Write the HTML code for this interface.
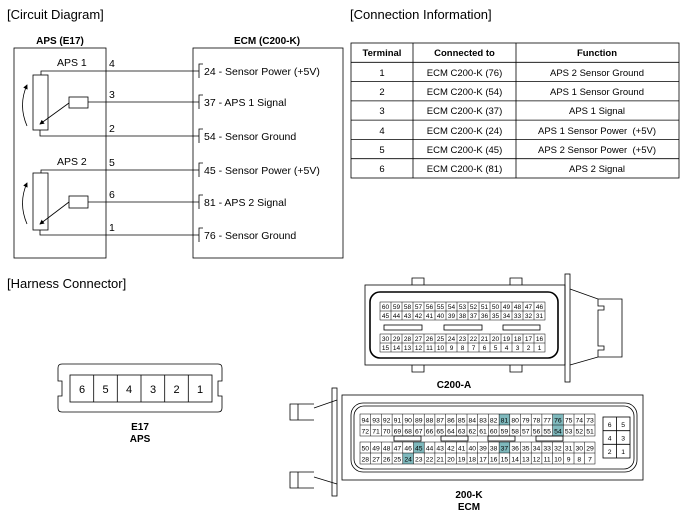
<!DOCTYPE html>
<html><head><meta charset="utf-8"><style>
html,body{margin:0;padding:0;background:#fff;}
svg{display:block;font-family:"Liberation Sans",sans-serif;}
</style></head><body>
<svg width="689" height="518" viewBox="0 0 689 518" xmlns="http://www.w3.org/2000/svg">
<defs><marker id="ah" markerWidth="6" markerHeight="6" refX="5" refY="3" orient="auto"><path d="M0,0 L6,3 L0,6 z" fill="#000"/></marker></defs>
<g font-size="13" fill="#000">
<text x="7" y="19">[Circuit Diagram]</text>
<text x="350" y="19">[Connection Information]</text>
<text x="7" y="288">[Harness Connector]</text>
</g>
<g font-size="10" font-weight="bold" text-anchor="middle">
<text x="60" y="44">APS (E17)</text>
<text x="267" y="44">ECM (C200-K)</text>
</g>
<g fill="none" stroke="#000" stroke-width="0.8">
<rect x="14" y="48" width="92" height="210"/>
<rect x="193" y="48" width="150" height="210"/>
<path d="M41,75 V71 H199"/>
<path d="M88,102 H199"/>
<path d="M40,130 V136 H199"/>
<path d="M41,173 V170 H199"/>
<path d="M88,202 H199"/>
<path d="M40,230 V235 H199"/>
<rect x="33" y="75" width="15" height="55" fill="#fff"/>
<rect x="69" y="97" width="19" height="11" fill="#fff"/>
<rect x="33" y="173" width="15" height="57" fill="#fff"/>
<rect x="69" y="196" width="19" height="12" fill="#fff"/>
<path d="M69,103 L40,124" marker-end="url(#ah)"/>
<path d="M69,202 L40,224" marker-end="url(#ah)"/>
<path d="M27,126 Q18,105 27,85" marker-end="url(#ah)"/>
<path d="M27,224 Q18,203 27,183" marker-end="url(#ah)"/>
<path d="M203,64 H199 V78 M203,95 H199 V109 M203,129 H199 V143 M203,163 H199 V177 M203,195 H199 V209 M203,228 H199 V242"/>
</g>
<g font-size="10.5">
<text x="57" y="66">APS 1</text>
<text x="57" y="165">APS 2</text>
<text x="109" y="67">4</text><text x="109" y="98">3</text><text x="109" y="132">2</text>
<text x="109" y="166">5</text><text x="109" y="198">6</text><text x="109" y="231">1</text>
<text x="204" y="75">24 - Sensor Power (+5V)</text>
<text x="204" y="106">37 - APS 1 Signal</text>
<text x="204" y="140">54 - Sensor Ground</text>
<text x="204" y="174">45 - Sensor Power (+5V)</text>
<text x="204" y="206">81 - APS 2 Signal</text>
<text x="204" y="239">76 - Sensor Ground</text>
</g>
<g fill="none" stroke="#000" stroke-width="0.8">
<rect x="351" y="43" width="328" height="135"/>
<path d="M351,62.3 H679 M351,81.6 H679 M351,100.9 H679 M351,120.1 H679 M351,139.4 H679 M351,158.7 H679 M413,43 V178 M516,43 V178"/>
</g>
<g font-size="9.5" text-anchor="middle">
<g font-weight="bold"><text x="382" y="56">Terminal</text><text x="464.5" y="56">Connected to</text><text x="597" y="56">Function</text></g>
<text x="382" y="76">1</text><text x="464.5" y="76">ECM C200-K (76)</text><text x="597" y="76">APS 2 Sensor Ground</text>
<text x="382" y="95">2</text><text x="464.5" y="95">ECM C200-K (54)</text><text x="597" y="95">APS 1 Sensor Ground</text>
<text x="382" y="114">3</text><text x="464.5" y="114">ECM C200-K (37)</text><text x="597" y="114">APS 1 Signal</text>
<text x="382" y="134">4</text><text x="464.5" y="134">ECM C200-K (24)</text><text x="597" y="134">APS 1 Sensor Power&#160; (+5V)</text>
<text x="382" y="153">5</text><text x="464.5" y="153">ECM C200-K (45)</text><text x="597" y="153">APS 2 Sensor Power&#160; (+5V)</text>
<text x="382" y="172">6</text><text x="464.5" y="172">ECM C200-K (81)</text><text x="597" y="172">APS 2 Signal</text>
</g>
<g fill="none" stroke="#000" stroke-width="0.8">
<path d="M62,364 H218 Q222,364 222,368 V381 H218 V396 H222 V408 Q222,412 218,412 H62 Q58,412 58,408 V396 H62 V381 H58 V368 Q58,364 62,364 Z"/>
<rect x="70" y="375" width="142" height="27"/>
<path d="M93.7,375 V402 M117.3,375 V402 M141,375 V402 M164.7,375 V402 M188.3,375 V402"/>
</g>
<g font-size="11" text-anchor="middle">
<text x="82" y="393">6</text><text x="105.5" y="393">5</text><text x="129" y="393">4</text><text x="153" y="393">3</text><text x="176.5" y="393">2</text><text x="200" y="393">1</text>
</g>
<g font-size="10" font-weight="bold" text-anchor="middle"><text x="140" y="430">E17</text><text x="140" y="442">APS</text>
<text x="454" y="388">C200-A</text><text x="469" y="498">200-K</text><text x="469" y="510">ECM</text></g>
<g fill="none" stroke="#000" stroke-width="0.8">
<rect x="365" y="285" width="200" height="80"/>
<rect x="370" y="292" width="188" height="66" rx="10" stroke-width="1.6"/>
<rect x="565" y="274" width="5" height="108"/>
<path d="M570,289 L598,299 M570,365 L598,357 M598,299 H622 V357 H598 V350 H604 V346 H598 V310 H604 V306 H598 Z"/>
<path d="M412,285 V278 H424 V285 M510,285 V278 H522 V285 M412,365 V372 H424 V365 M510,365 V372 H522 V365"/>
<rect x="384" y="325" width="38" height="5"/><rect x="444" y="325" width="38" height="5"/><rect x="503" y="325" width="37" height="5"/>
</g>
<g fill="none" stroke="#000" stroke-width="0.5">
<rect x="380" y="302" width="165" height="18"/><path d="M380,311 H545"/>
<rect x="380" y="334" width="165" height="18"/><path d="M380,343 H545"/>
<path d="M391,302V320M402,302V320M413,302V320M424,302V320M435,302V320M446,302V320M457,302V320M468,302V320M479,302V320M490,302V320M501,302V320M512,302V320M523,302V320M534,302V320"/>
<path d="M391,334V352M402,334V352M413,334V352M424,334V352M435,334V352M446,334V352M457,334V352M468,334V352M479,334V352M490,334V352M501,334V352M512,334V352M523,334V352M534,334V352"/>
</g>
<g font-size="6.5" text-anchor="middle">
<text x="385.5" y="309">60</text><text x="396.5" y="309">59</text><text x="407.5" y="309">58</text><text x="418.5" y="309">57</text><text x="429.5" y="309">56</text><text x="440.5" y="309">55</text><text x="451.5" y="309">54</text><text x="462.5" y="309">53</text><text x="473.5" y="309">52</text><text x="484.5" y="309">51</text><text x="495.5" y="309">50</text><text x="506.5" y="309">49</text><text x="517.5" y="309">48</text><text x="528.5" y="309">47</text><text x="539.5" y="309">46</text>
<text x="385.5" y="318">45</text><text x="396.5" y="318">44</text><text x="407.5" y="318">43</text><text x="418.5" y="318">42</text><text x="429.5" y="318">41</text><text x="440.5" y="318">40</text><text x="451.5" y="318">39</text><text x="462.5" y="318">38</text><text x="473.5" y="318">37</text><text x="484.5" y="318">36</text><text x="495.5" y="318">35</text><text x="506.5" y="318">34</text><text x="517.5" y="318">33</text><text x="528.5" y="318">32</text><text x="539.5" y="318">31</text>
<text x="385.5" y="341">30</text><text x="396.5" y="341">29</text><text x="407.5" y="341">28</text><text x="418.5" y="341">27</text><text x="429.5" y="341">26</text><text x="440.5" y="341">25</text><text x="451.5" y="341">24</text><text x="462.5" y="341">23</text><text x="473.5" y="341">22</text><text x="484.5" y="341">21</text><text x="495.5" y="341">20</text><text x="506.5" y="341">19</text><text x="517.5" y="341">18</text><text x="528.5" y="341">17</text><text x="539.5" y="341">16</text>
<text x="385.5" y="350">15</text><text x="396.5" y="350">14</text><text x="407.5" y="350">13</text><text x="418.5" y="350">12</text><text x="429.5" y="350">11</text><text x="440.5" y="350">10</text><text x="451.5" y="350">9</text><text x="462.5" y="350">8</text><text x="473.5" y="350">7</text><text x="484.5" y="350">6</text><text x="495.5" y="350">5</text><text x="506.5" y="350">4</text><text x="517.5" y="350">3</text><text x="528.5" y="350">2</text><text x="539.5" y="350">1</text>
</g>
<g fill="#7fb9bd">
<rect x="499.1" y="414" width="10.7" height="11"/>
<rect x="552.6" y="414" width="10.7" height="11"/>
<rect x="552.6" y="425" width="10.7" height="11"/>
<rect x="413.5" y="442" width="10.7" height="11"/>
<rect x="499.1" y="442" width="10.7" height="11"/>
<rect x="402.8" y="453" width="10.7" height="11"/>
</g>
<g fill="none" stroke="#000" stroke-width="0.8">
<rect x="342" y="395" width="301" height="85"/>
<rect x="351" y="403" width="286" height="69" rx="12"/>
<rect x="354" y="406" width="280" height="63" rx="10"/>
<rect x="332" y="388" width="5" height="108"/>
<path d="M337,400 L314,408 M337,484 L314,477 M314,404 H298 V420 H314 M314,472 H298 V488 H314 M298,404 H290 V420 H298 M298,472 H290 V488 H298"/>
<rect x="394" y="436" width="27" height="5"/><rect x="441" y="436" width="27" height="5"/><rect x="488" y="436" width="27" height="5"/><rect x="536" y="436" width="27" height="5"/>
<rect x="603" y="417" width="27" height="41"/><path d="M616.5,417 V458 M603,430.7 H630 M603,444.3 H630"/>
</g>
<g fill="none" stroke="#000" stroke-width="0.5">
<rect x="360" y="414" width="235" height="22"/><path d="M360,425 H595"/>
<rect x="360" y="442" width="235" height="22"/><path d="M360,453 H595"/>
<path d="M370.7,414V436M381.4,414V436M392.1,414V436M402.8,414V436M413.5,414V436M424.2,414V436M434.9,414V436M445.6,414V436M456.3,414V436M467,414V436M477.7,414V436M488.4,414V436M499.1,414V436M509.8,414V436M520.5,414V436M531.2,414V436M541.9,414V436M552.6,414V436M563.3,414V436M574,414V436M584.7,414V436"/>
<path d="M370.7,442V464M381.4,442V464M392.1,442V464M402.8,442V464M413.5,442V464M424.2,442V464M434.9,442V464M445.6,442V464M456.3,442V464M467,442V464M477.7,442V464M488.4,442V464M499.1,442V464M509.8,442V464M520.5,442V464M531.2,442V464M541.9,442V464M552.6,442V464M563.3,442V464M574,442V464M584.7,442V464"/>
</g>
<g font-size="6.8" text-anchor="middle">
<text x="365.3" y="422.5">94</text><text x="376" y="422.5">93</text><text x="386.7" y="422.5">92</text><text x="397.4" y="422.5">91</text><text x="408.1" y="422.5">90</text><text x="418.8" y="422.5">89</text><text x="429.5" y="422.5">88</text><text x="440.2" y="422.5">87</text><text x="450.9" y="422.5">86</text><text x="461.6" y="422.5">85</text><text x="472.3" y="422.5">84</text><text x="483" y="422.5">83</text><text x="493.7" y="422.5">82</text><text x="504.4" y="422.5">81</text><text x="515.1" y="422.5">80</text><text x="525.8" y="422.5">79</text><text x="536.5" y="422.5">78</text><text x="547.2" y="422.5">77</text><text x="557.9" y="422.5">76</text><text x="568.6" y="422.5">75</text><text x="579.3" y="422.5">74</text><text x="590" y="422.5">73</text>
<text x="365.3" y="433.5">72</text><text x="376" y="433.5">71</text><text x="386.7" y="433.5">70</text><text x="397.4" y="433.5">69</text><text x="408.1" y="433.5">68</text><text x="418.8" y="433.5">67</text><text x="429.5" y="433.5">66</text><text x="440.2" y="433.5">65</text><text x="450.9" y="433.5">64</text><text x="461.6" y="433.5">63</text><text x="472.3" y="433.5">62</text><text x="483" y="433.5">61</text><text x="493.7" y="433.5">60</text><text x="504.4" y="433.5">59</text><text x="515.1" y="433.5">58</text><text x="525.8" y="433.5">57</text><text x="536.5" y="433.5">56</text><text x="547.2" y="433.5">55</text><text x="557.9" y="433.5">54</text><text x="568.6" y="433.5">53</text><text x="579.3" y="433.5">52</text><text x="590" y="433.5">51</text>
<text x="365.3" y="450.5">50</text><text x="376" y="450.5">49</text><text x="386.7" y="450.5">48</text><text x="397.4" y="450.5">47</text><text x="408.1" y="450.5">46</text><text x="418.8" y="450.5">45</text><text x="429.5" y="450.5">44</text><text x="440.2" y="450.5">43</text><text x="450.9" y="450.5">42</text><text x="461.6" y="450.5">41</text><text x="472.3" y="450.5">40</text><text x="483" y="450.5">39</text><text x="493.7" y="450.5">38</text><text x="504.4" y="450.5">37</text><text x="515.1" y="450.5">36</text><text x="525.8" y="450.5">35</text><text x="536.5" y="450.5">34</text><text x="547.2" y="450.5">33</text><text x="557.9" y="450.5">32</text><text x="568.6" y="450.5">31</text><text x="579.3" y="450.5">30</text><text x="590" y="450.5">29</text>
<text x="365.3" y="461.5">28</text><text x="376" y="461.5">27</text><text x="386.7" y="461.5">26</text><text x="397.4" y="461.5">25</text><text x="408.1" y="461.5">24</text><text x="418.8" y="461.5">23</text><text x="429.5" y="461.5">22</text><text x="440.2" y="461.5">21</text><text x="450.9" y="461.5">20</text><text x="461.6" y="461.5">19</text><text x="472.3" y="461.5">18</text><text x="483" y="461.5">17</text><text x="493.7" y="461.5">16</text><text x="504.4" y="461.5">15</text><text x="515.1" y="461.5">14</text><text x="525.8" y="461.5">13</text><text x="536.5" y="461.5">12</text><text x="547.2" y="461.5">11</text><text x="557.9" y="461.5">10</text><text x="568.6" y="461.5">9</text><text x="579.3" y="461.5">8</text><text x="590" y="461.5">7</text>
<text x="609.7" y="427">6</text><text x="623.2" y="427">5</text><text x="609.7" y="440.5">4</text><text x="623.2" y="440.5">3</text><text x="609.7" y="454">2</text><text x="623.2" y="454">1</text>
</g>
</svg>
</body></html>
